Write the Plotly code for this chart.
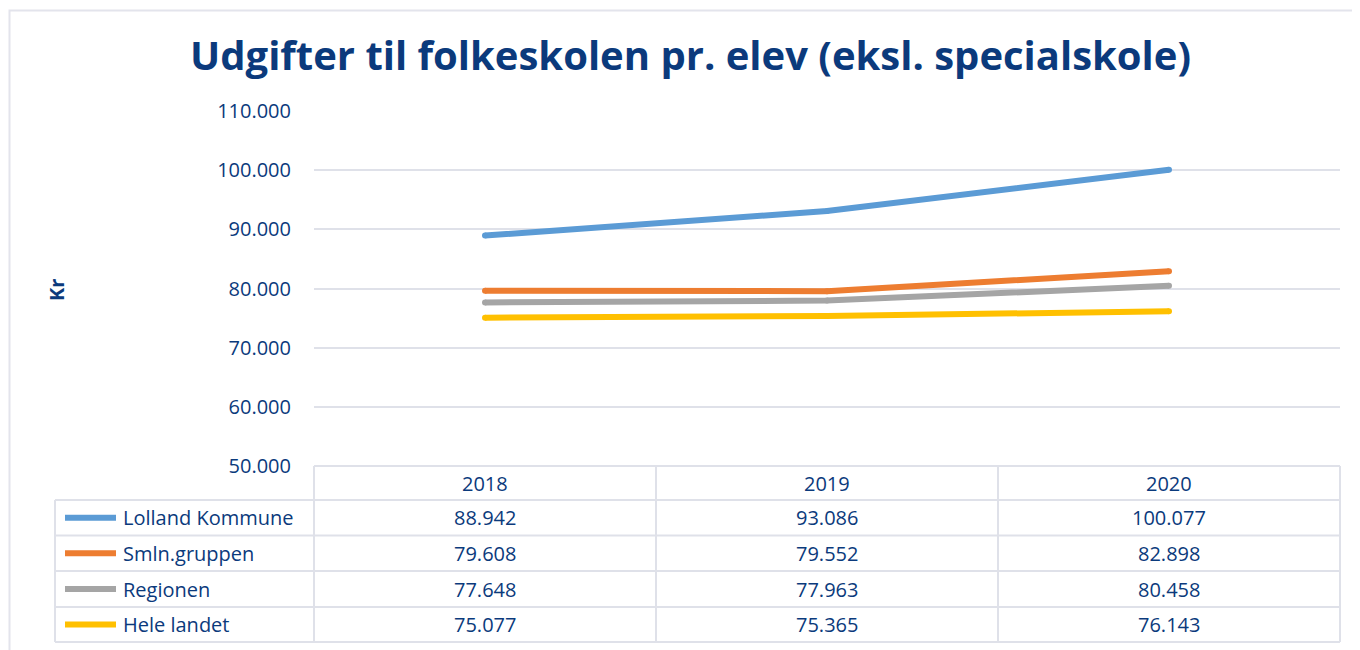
import plotly.graph_objects as go

# ---- data ----
years = ["2018", "2019", "2020"]
series_names = ["Lolland Kommune", "Smln.gruppen", "Regionen", "Hele landet"]
lolland = [88942, 93086, 100077]
smln = [79608, 79552, 82898]
regionen = [77648, 77963, 80458]
hele_landet = [75077, 75365, 76143]
series_values = [lolland, smln, regionen, hele_landet]
series_colors = ["#5b9bd5", "#ed7d31", "#a5a5a5", "#ffc000"]
y_ticks = [50000, 60000, 70000, 80000, 90000, 100000, 110000]
y_tick_labels = ["50.000", "60.000", "70.000", "80.000", "90.000", "100.000", "110.000"]
title_text = "Udgifter til folkeskolen pr. elev (eksl. specialskole)"
y_title = "Kr"


def fmt(v):
    return f"{v:,}".replace(",", ".")


W, H = 1360, 650
OFF = 8  # page body margin offset
TXT = "#0b3a7c"
GRID = "#dfe1e9"
FONT = "'Open Sans', Lato, sans-serif"

# layout geometry (screen pixels)
plot_x0, plot_x1 = 314, 1340
plot_y_top, plot_y_bot = 111, 466
leg_x0 = 55
row_edges = [466, 500, 535.5, 571, 607, 642]


def px(x):
    return (x - OFF) / W


def py(y):
    return 1 - (y - OFF) / H


fig = go.Figure()
xpos = [i + 0.5 for i in range(len(years))]
for name, vals, col in zip(series_names, series_values, series_colors):
    fig.add_trace(go.Scatter(
        x=xpos, y=vals, mode="lines+markers", name=name,
        line=dict(color=col, width=6),
        marker=dict(color=col, size=6),
        showlegend=False, hoverinfo="skip", cliponaxis=False,
    ))

shapes = []
annotations = []

# outer border
shapes.append(dict(type="rect", xref="paper", yref="paper",
                   x0=px(9.5), x1=px(1380), y0=py(10.5), y1=py(680),
                   line=dict(color="#e3e4ec", width=2), fillcolor="rgba(0,0,0,0)"))

# table lines
line_style = dict(color=GRID, width=2)
shapes.append(dict(type="line", xref="paper", yref="paper",
                   x0=px(plot_x0), x1=px(plot_x1), y0=py(row_edges[0]), y1=py(row_edges[0]), line=line_style))
for ye in row_edges[1:]:
    shapes.append(dict(type="line", xref="paper", yref="paper",
                       x0=px(leg_x0), x1=px(plot_x1), y0=py(ye), y1=py(ye), line=line_style))
col_w = (plot_x1 - plot_x0) / len(years)
for i in range(len(years) + 1):
    xv = plot_x0 + i * col_w
    shapes.append(dict(type="line", xref="paper", yref="paper",
                       x0=px(xv), x1=px(xv), y0=py(row_edges[0]), y1=py(row_edges[-1]), line=line_style))
shapes.append(dict(type="line", xref="paper", yref="paper",
                   x0=px(leg_x0), x1=px(leg_x0), y0=py(row_edges[1]), y1=py(row_edges[-1]), line=line_style))

# header year labels
for i, yr in enumerate(years):
    cx = plot_x0 + (i + 0.5) * col_w
    cy = (row_edges[0] + row_edges[1]) / 2
    annotations.append(dict(x=px(cx), y=py(cy), xref="paper", yref="paper", text=yr,
                            showarrow=False, font=dict(size=20, color=TXT, family=FONT),
                            xanchor="center", yanchor="middle"))

# rows
for r, (name, vals, col) in enumerate(zip(series_names, series_values, series_colors)):
    cy = (row_edges[r + 1] + row_edges[r + 2]) / 2
    shapes.append(dict(type="line", xref="paper", yref="paper",
                       x0=px(65), x1=px(116), y0=py(cy), y1=py(cy),
                       line=dict(color=col, width=6)))
    annotations.append(dict(x=px(121), y=py(cy), xref="paper", yref="paper", text=name,
                            showarrow=False, font=dict(size=20, color=TXT, family=FONT),
                            xanchor="left", yanchor="middle"))
    for i, v in enumerate(vals):
        cx = plot_x0 + (i + 0.5) * col_w
        annotations.append(dict(x=px(cx), y=py(cy), xref="paper", yref="paper", text=fmt(v),
                                showarrow=False, font=dict(size=20, color=TXT, family=FONT),
                                xanchor="center", yanchor="middle"))

# title
annotations.append(dict(x=px(690), y=py(55), xref="paper", yref="paper",
                        text=f"<b>{title_text}</b>", showarrow=False,
                        font=dict(size=40, color=TXT, family=FONT),
                        xanchor="center", yanchor="middle"))
# y title
annotations.append(dict(x=px(57), y=py(290), xref="paper", yref="paper",
                        text=f"<b>{y_title}</b>", showarrow=False, textangle=-90,
                        font=dict(size=20, color=TXT, family=FONT),
                        xanchor="center", yanchor="middle"))

fig.update_layout(
    width=W, height=H,
    margin=dict(l=0, r=0, t=0, b=0, autoexpand=False),
    paper_bgcolor="white", plot_bgcolor="white",
    shapes=shapes, annotations=annotations,
    xaxis=dict(domain=[px(plot_x0), px(plot_x1)], range=[0, len(years)], automargin=False,
               showgrid=False, zeroline=False, showticklabels=False, showline=False, fixedrange=True),
    yaxis=dict(domain=[py(plot_y_bot), py(plot_y_top)], range=[50000, 110000], automargin=False,
               tickvals=y_ticks, ticktext=y_tick_labels,
               showgrid=True, gridcolor=GRID, gridwidth=2, zeroline=False, showline=False,
               ticks="outside", ticklen=18, tickcolor="rgba(0,0,0,0)",
               tickfont=dict(size=20, color=TXT, family=FONT), fixedrange=True),
)

fig.write_html("out.html")
